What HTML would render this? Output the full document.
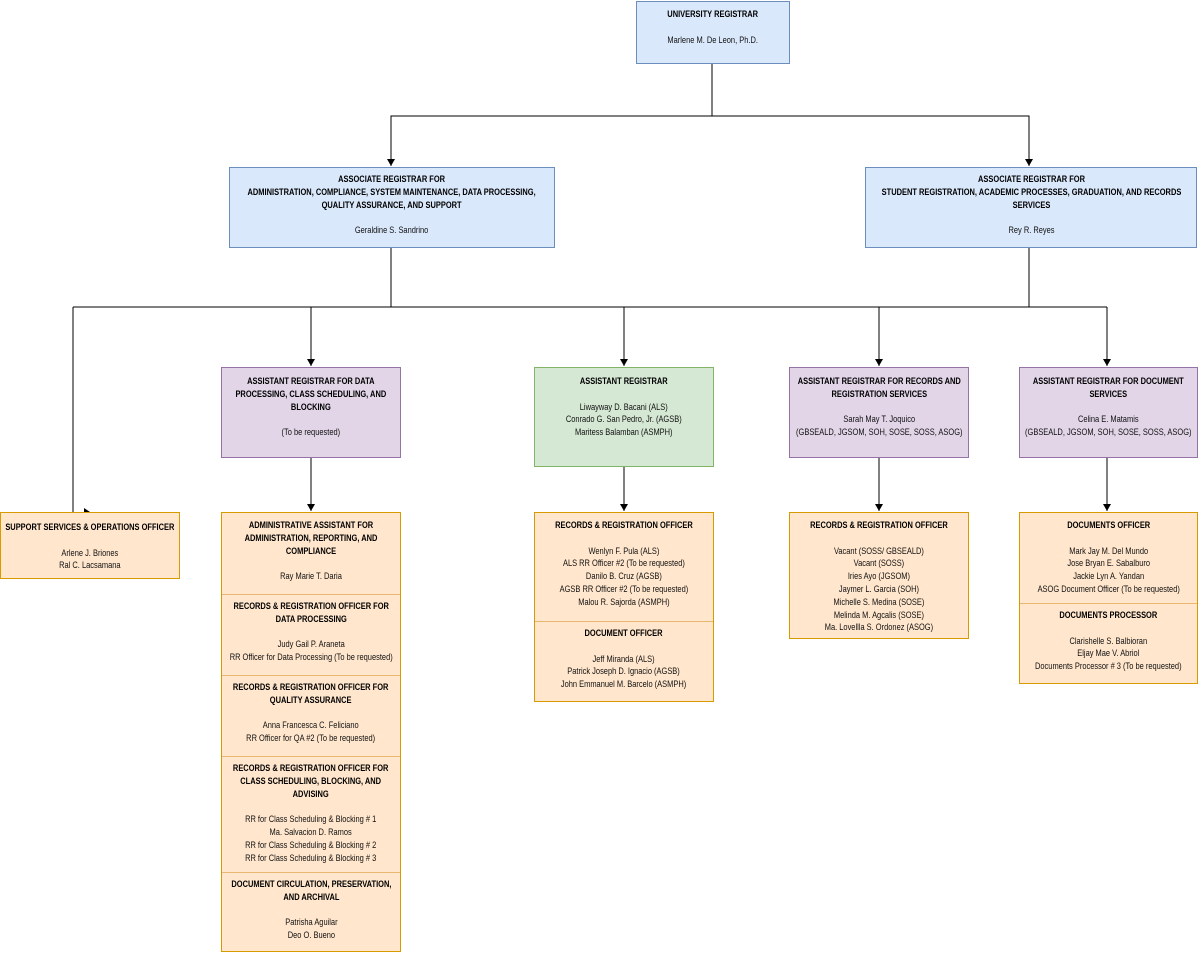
<!DOCTYPE html>
<html><head><meta charset="utf-8"><style>
body{margin:0;width:1199px;height:953px;background:#fff;position:relative;overflow:hidden;font-family:"Liberation Sans",sans-serif;font-size:9px;line-height:12.8px;color:#111}
.b{position:absolute;box-sizing:border-box;text-align:center;border:1px solid;display:flex;flex-direction:column;align-items:center}
.blue{background:#dae8fc;border-color:#6c8ebf}
.pur{background:#e1d5e7;border-color:#9673a6}
.grn{background:#d5e8d4;border-color:#82b366}
.org{background:#ffe6cc;border-color:#d79b00}
.s{position:absolute;left:0;right:0;box-sizing:border-box;border-top:1px solid #e8b870;text-align:center;display:flex;flex-direction:column;align-items:center}
.t{display:block;white-space:nowrap;transform:scaleX(.83);transform-origin:50% 0;flex:none}
b{font-weight:bold;color:#000}
svg{position:absolute;left:0;top:0}
</style></head><body>
<svg width="1199" height="953" viewBox="0 0 1199 953">
<defs><marker id="a" markerWidth="8" markerHeight="8" refX="7" refY="4" orient="auto" markerUnits="userSpaceOnUse"><path d="M0,0 L7,4 L0,8 Z" fill="#000"/></marker></defs>
<g stroke="#000" stroke-width="1" fill="none">
<path d="M712 63 V116 H391 V166" marker-end="url(#a)"/>
<path d="M712 116 H1029 V166" marker-end="url(#a)"/>
<path d="M391 247 V307 M1029 247 V307 M73 307 H1107"/>
<path d="M73 307 V512"/>
<path d="M311 307 V366" marker-end="url(#a)"/>
<path d="M624 307 V366" marker-end="url(#a)"/>
<path d="M879 307 V366" marker-end="url(#a)"/>
<path d="M1107 307 V366" marker-end="url(#a)"/>
<path d="M311 457 V511" marker-end="url(#a)"/>
<path d="M624 466 V511" marker-end="url(#a)"/>
<path d="M879 457 V511" marker-end="url(#a)"/>
<path d="M1107 457 V511" marker-end="url(#a)"/>
</g>
<path d="M84 508 L90 512 L84 514 Z" fill="#000"/>
</svg>

<div class="b blue" style="left:636px;top:1px;width:154px;height:63px;padding-top:6px"><span class="t"><b>UNIVERSITY REGISTRAR</b><br><br>Marlene M. De Leon, Ph.D.</span></div>

<div class="b blue" style="left:229px;top:167px;width:326px;height:81px;padding-top:5px"><span class="t"><b>ASSOCIATE REGISTRAR FOR<br>ADMINISTRATION, COMPLIANCE, SYSTEM MAINTENANCE, DATA PROCESSING,<br>QUALITY ASSURANCE, AND SUPPORT</b><br><br>Geraldine S. Sandrino</span></div>

<div class="b blue" style="left:865px;top:167px;width:332px;height:81px;padding-top:5px"><span class="t"><b>ASSOCIATE REGISTRAR FOR<br>STUDENT REGISTRATION, ACADEMIC PROCESSES, GRADUATION, AND RECORDS<br>SERVICES</b><br><br>Rey R. Reyes</span></div>

<div class="b pur" style="left:221px;top:367px;width:180px;height:91px;padding-top:7px"><span class="t"><b>ASSISTANT REGISTRAR FOR DATA<br>PROCESSING, CLASS SCHEDULING, AND<br>BLOCKING</b><br><br>(To be requested)</span></div>

<div class="b grn" style="left:534px;top:367px;width:180px;height:100px;padding-top:7px"><span class="t"><b>ASSISTANT REGISTRAR</b><br><br>Liwayway D. Bacani (ALS)<br>Conrado G. San Pedro, Jr. (AGSB)<br>Maritess Balamban (ASMPH)</span></div>

<div class="b pur" style="left:789px;top:367px;width:180px;height:91px;padding-top:7px"><span class="t"><b>ASSISTANT REGISTRAR FOR RECORDS AND<br>REGISTRATION SERVICES</b><br><br>Sarah May T. Joquico<br>(GBSEALD, JGSOM, SOH, SOSE, SOSS, ASOG)</span></div>

<div class="b pur" style="left:1019px;top:367px;width:179px;height:91px;padding-top:7px"><span class="t"><b>ASSISTANT REGISTRAR FOR DOCUMENT<br>SERVICES</b><br><br>Celina E. Matamis<br>(GBSEALD, JGSOM, SOH, SOSE, SOSS, ASOG)</span></div>

<div class="b org" style="left:0;top:512px;width:180px;height:67px;padding-top:8px"><span class="t"><b>SUPPORT SERVICES &amp; OPERATIONS OFFICER</b><br><br>Arlene J. Briones<br>Ral C. Lacsamana</span></div>

<div class="b org" style="left:221px;top:512px;width:180px;height:440px">
<div class="s" style="top:0;border:0;padding-top:6px"><span class="t"><b>ADMINISTRATIVE ASSISTANT FOR<br>ADMINISTRATION, REPORTING, AND<br>COMPLIANCE</b><br><br>Ray Marie T. Daria</span></div>
<div class="s" style="top:81px;padding-top:5px"><span class="t"><b>RECORDS &amp; REGISTRATION OFFICER FOR<br>DATA PROCESSING</b><br><br>Judy Gail P. Araneta<br>RR Officer for Data Processing (To be requested)</span></div>
<div class="s" style="top:162px;padding-top:5px"><span class="t"><b>RECORDS &amp; REGISTRATION OFFICER FOR<br>QUALITY ASSURANCE</b><br><br>Anna Francesca C. Feliciano<br>RR Officer for QA #2 (To be requested)</span></div>
<div class="s" style="top:243px;padding-top:5px"><span class="t"><b>RECORDS &amp; REGISTRATION OFFICER FOR<br>CLASS SCHEDULING, BLOCKING, AND<br>ADVISING</b><br><br>RR for Class Scheduling &amp; Blocking # 1<br>Ma. Salvacion D. Ramos<br>RR for Class Scheduling &amp; Blocking # 2<br>RR for Class Scheduling &amp; Blocking # 3</span></div>
<div class="s" style="top:359px;padding-top:5px"><span class="t"><b>DOCUMENT CIRCULATION, PRESERVATION,<br>AND ARCHIVAL</b><br><br>Patrisha Aguilar<br>Deo O. Bueno</span></div>
</div>

<div class="b org" style="left:534px;top:512px;width:180px;height:190px">
<div class="s" style="top:0;border:0;padding-top:6px"><span class="t"><b>RECORDS &amp; REGISTRATION OFFICER</b><br><br>Wenlyn F. Pula (ALS)<br>ALS RR Officer #2 (To be requested)<br>Danilo B. Cruz (AGSB)<br>AGSB RR Officer #2 (To be requested)<br>Malou R. Sajorda (ASMPH)</span></div>
<div class="s" style="top:108px;padding-top:5px"><span class="t"><b>DOCUMENT OFFICER</b><br><br>Jeff Miranda (ALS)<br>Patrick Joseph D. Ignacio (AGSB)<br>John Emmanuel M. Barcelo (ASMPH)</span></div>
</div>

<div class="b org" style="left:789px;top:512px;width:180px;height:127px;padding-top:6px"><span class="t"><b>RECORDS &amp; REGISTRATION OFFICER</b><br><br>Vacant (SOSS/ GBSEALD)<br>Vacant (SOSS)<br>Iries Ayo (JGSOM)<br>Jaymer L. Garcia (SOH)<br>Michelle S. Medina (SOSE)<br>Melinda M. Agcalis (SOSE)<br>Ma. Lovellla S. Ordonez (ASOG)</span></div>

<div class="b org" style="left:1019px;top:512px;width:179px;height:172px">
<div class="s" style="top:0;border:0;padding-top:6px"><span class="t"><b>DOCUMENTS OFFICER</b><br><br>Mark Jay M. Del Mundo<br>Jose Bryan E. Sabalburo<br>Jackie Lyn A. Yandan<br>ASOG Document Officer (To be requested)</span></div>
<div class="s" style="top:90px;padding-top:5px"><span class="t"><b>DOCUMENTS PROCESSOR</b><br><br>Clarishelle S. Balbioran<br>Eljay Mae V. Abriol<br>Documents Processor # 3 (To be requested)</span></div>
</div>
</body></html>
